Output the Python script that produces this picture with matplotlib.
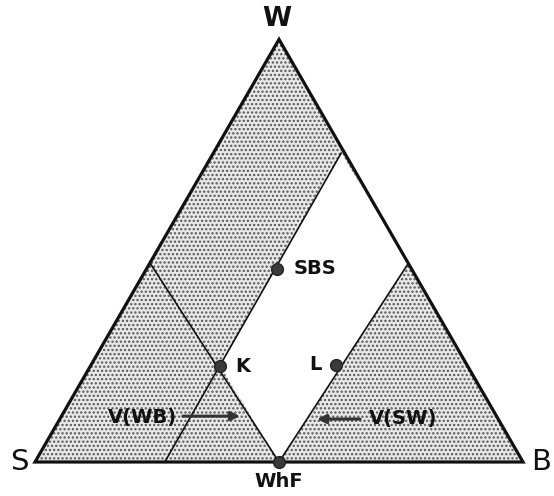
import matplotlib
matplotlib.use('Agg')
import matplotlib.pyplot as plt
from matplotlib.patches import Polygon
import numpy as np

# ── Data: ternary compositions given as (B fraction, W fraction); S = 1 - B - W ──
corner_labels = ['S', 'B', 'W']
corner_b = [0.0, 1.0, 0.0]
corner_w = [0.0, 0.0, 1.0]

point_names = ['SBS', 'K', 'L', 'WhF']
point_b = [0.268, 0.266, 0.502, 0.50]
point_w = [0.457, 0.227, 0.230, 0.0]

# boundary lines (start -> end)
line_b0 = [0.266, 0.50, 0.50]
line_w0 = [0.0, 0.0, 0.0]
line_b1 = [0.262, 0.0, 0.53]
line_w1 = [0.731, 0.471, 0.470]

# unshaded region: K -> top of long line -> top of right line -> WhF
white_b = [point_b[1], line_b1[0], line_b1[2], point_b[3]]
white_w = [point_w[1], line_w1[0], line_w1[2], point_w[3]]

SQ3 = np.sqrt(3) / 2


def to_xy(b, w):
    b = np.asarray(b, float)
    w = np.asarray(w, float)
    return b + w / 2, w * SQ3


plt.rcParams['hatch.linewidth'] = 1.1

fig = plt.figure(figsize=(5.54, 4.96), dpi=100)
ax = fig.add_axes([0, 0, 1, 1])
ax.set_xlim(-35 / 488, 519 / 488)
ax.set_ylim(-34 / 488, 462 / 488)
ax.axis('off')

cx, cy = to_xy(corner_b, corner_w)
tri = np.column_stack([cx, cy])

# stippled fill of the whole triangle
ax.add_patch(Polygon(tri, closed=True, facecolor='#e8e8e8', edgecolor='#555555',
                     lw=0, hatch='....', zorder=1))
# white window
wx, wy = to_xy(white_b, white_w)
ax.add_patch(Polygon(np.column_stack([wx, wy]), closed=True, facecolor='white',
                     edgecolor='none', zorder=2))

# inner lines
for b0, w0, b1, w1 in zip(line_b0, line_w0, line_b1, line_w1):
    lx, ly = to_xy([b0, b1], [w0, w1])
    ax.plot(lx, ly, color='#111', lw=1.2, zorder=3)

# triangle outline
ax.add_patch(Polygon(tri, closed=True, facecolor='none', edgecolor='#111',
                     lw=2.3, joinstyle='miter', zorder=4))

# points
px, py = to_xy(point_b, point_w)
ax.plot(px, py, 'o', ms=8.5, color='#3a3a3a', mec='#222', zorder=5)

bold = dict(fontsize=14, fontweight='bold', color='#111')
ax.text(px[0] + 0.033, py[0], 'SBS', ha='left', va='center', **bold)
ax.text(px[1] + 0.031, py[1], 'K', ha='left', va='center', **bold)
ax.text(px[2] - 0.029, py[2], 'L', ha='right', va='center', **bold)
ax.text(px[3], py[3] - 0.040, 'WhF', ha='center', va='center', **bold)

# corner labels
ax.text(cx[0] - 0.031, cy[0], 'S', ha='center', va='center', fontsize=21, color='#111')
ax.text(cx[1] + 0.037, cy[1], 'B', ha='center', va='center', fontsize=21, color='#111')
ax.text(cx[2] - 0.004, cy[2] + 0.042, 'W', ha='center', va='center', fontsize=19,
        fontweight='bold', color='#111')

# arrows pointing to the two boundaries
arr = dict(arrowstyle='-|>', lw=2.2, color='#333', mutation_scale=13, shrinkA=0, shrinkB=0)
ax.annotate('', xy=(0.42, 0.094), xytext=(0.303, 0.094), arrowprops=arr, zorder=6)
ax.text(0.220, 0.092, 'V(WB)', ha='center', va='center', **bold)
ax.annotate('', xy=(0.578, 0.088), xytext=(0.666, 0.088), arrowprops=arr, zorder=6)
ax.text(0.754, 0.090, 'V(SW)', ha='center', va='center', **bold)

fig.savefig('out.png', dpi=100, facecolor='white')
